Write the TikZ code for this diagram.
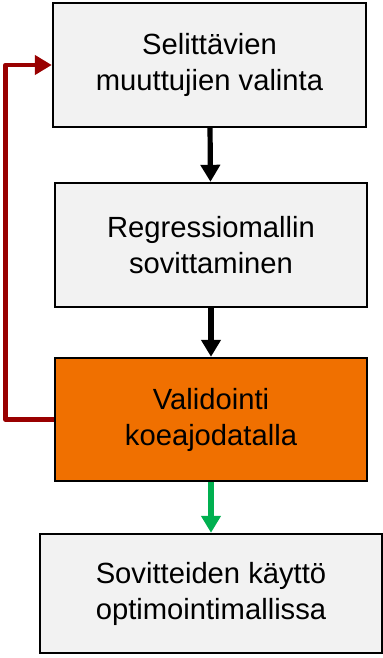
\documentclass[tikz,border=0pt]{standalone}
\usepackage{fontspec}
\setmainfont{Liberation Sans}
\usetikzlibrary{arrows.meta}
\definecolor{boxgray}{RGB}{242,242,242}
\definecolor{valorange}{RGB}{240,112,0}
\definecolor{loopred}{RGB}{153,0,0}
\definecolor{okgreen}{RGB}{0,176,80}
\tikzset{
    stepbox/.style={rectangle,draw=black,line width=1.2pt,fill=boxgray,align=center,
        font=\fontsize{14.6pt}{18pt}\selectfont,inner sep=0},
    hotbox/.style={stepbox,fill=valorange},
    flow/.style={line width=2.6pt,-{Triangle[width=9.5pt,length=8.5pt]}}
}
\begin{document}
\begin{tikzpicture}
    \useasboundingbox (0,0) rectangle (191.5pt,-329pt);
    \node[stepbox,minimum width=156.5pt,minimum height=62pt] (sel) at (104.75pt,-32.5pt)
        {Selittävien\\muuttujien valinta};
    \node[stepbox,minimum width=156pt,minimum height=62pt] (reg) at (105.5pt,-122.5pt)
        {Regressiomallin\\sovittaminen};
    \node[hotbox,minimum width=156pt,minimum height=61.5pt] (val) at (105.5pt,-209.75pt)
        {Validointi\\koeajodatalla};
    \node[stepbox,minimum width=171pt,minimum height=59.5pt] (use) at (105.5pt,-296.75pt)
        {Sovitteiden käyttö\\optimointimallissa};
    \coordinate (back) at (2.8pt,-100pt);
    \draw[flow] (sel) -- (reg);
    \draw[flow] (reg) -- (val);
    \draw[flow,okgreen] (val) -- (use);
    \draw[flow,loopred,line width=2.2pt,line join=round] (val.west) -| (back) |- (sel.west);
\end{tikzpicture}
\end{document}
